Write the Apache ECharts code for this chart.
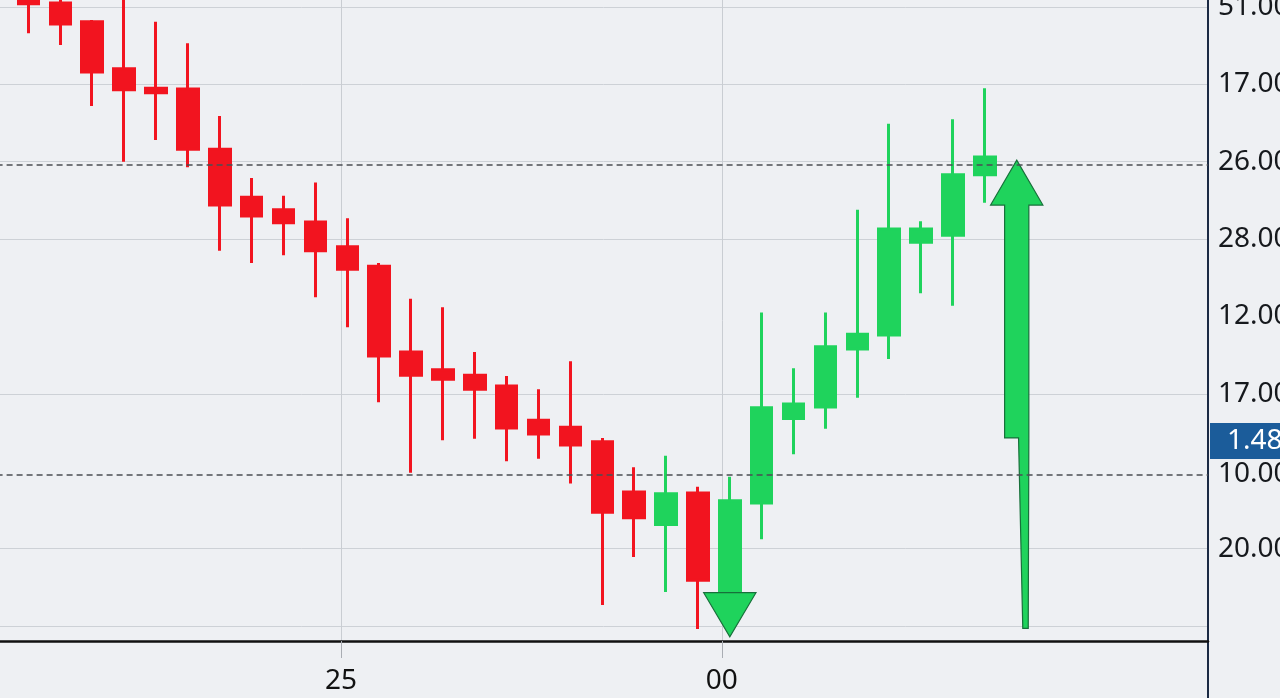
<!DOCTYPE html>
<html>
<head>
<meta charset="utf-8">
<title>Candles</title>
<script src="https://cdn.jsdelivr.net/npm/echarts@6.0.0/dist/echarts.min.js"></script>
<style>
  html, body { margin: 0; padding: 0; background: #eef0f3; }
  #chart { width: 1280px; height: 698px; }
</style>
</head>
<body>
<div id="chart"></div>
<script>
// [open, close, low, high]
const candles = [
  [82.2, 80.4, 76.6, 86.1],
  [80.5, 77.8, 75.1, 81.3],
  [78.1, 71.6, 67.2, 78.3],
  [72.0, 69.3, 60.0, 81.2],
  [69.5, 68.9, 62.8, 78.1],
  [69.4, 61.6, 59.3, 75.3],
  [61.6, 54.4, 48.5, 65.9],
  [55.4, 53.0, 46.9, 57.9],
  [53.8, 52.1, 47.9, 55.6],
  [52.2, 48.5, 42.5, 57.3],
  [49.0, 46.1, 38.6, 52.7],
  [46.5, 34.9, 28.9, 46.9],
  [35.4, 32.4, 19.8, 42.3],
  [33.1, 31.9, 24.0, 41.2],
  [32.4, 30.6, 24.2, 35.4],
  [31.0, 25.6, 21.3, 32.3],
  [26.6, 24.8, 21.6, 30.6],
  [25.7, 23.4, 18.4, 34.2],
  [23.8, 14.7, 2.7, 24.3],
  [17.3, 14.0, 8.9, 20.5],
  [13.1, 17.1, 4.4, 22.0],
  [17.2, 5.9, -0.4, 18.0],
  [4.3, 16.2, 4.3, 19.3],
  [15.9, 28.2, 11.2, 40.5],
  [26.8, 28.7, 22.2, 33.3],
  [28.3, 36.1, 25.5, 40.5],
  [35.8, 37.7, 29.5, 53.8],
  [37.6, 51.3, 34.5, 64.9],
  [49.6, 51.3, 43.0, 52.3],
  [50.5, 58.3, 41.4, 65.5],
  [58.3, 60.6, 54.7, 69.5]
];

// [category, tip, head base, shaft bottom, tail end]
const upArrow = [[32, 60.2, 54.4, 24.3, -0.3]];
// [category, head base, tip]
const downHead = [[23, 4.3, -1.4]];

const leadSlots = 1;
const categoryCount = 39;
const categories = Array.from({ length: categoryCount }, (_, i) => String(i));

const yGridValues = [0, 10, 30, 50, 60, 70, 80];
const yLabelValues = [10, 19.6, 30, 40, 50, 60, 70, 80];
const yLabels = ['20.00', '10.00', '17.00', '12.00', '28.00', '26.00', '17.00', '51.00'];

const xTickValues = [10.8, 22.75];
const xTickLabels = ['25', '00'];

const dashedLevels = [59.6, 19.6];
const priceLevel = 23.9;
const priceTag = '1.48';

const RED = '#f2141f';
const GREEN = '#1fd35c';
const OUTLINE = '#17703a';

function pick(values, labels) {
  return (v) => {
    const i = values.findIndex((t) => Math.abs(t - v) < 1e-6);
    return i < 0 ? '' : labels[i];
  };
}

function candleData() {
  const out = new Array(categoryCount).fill('-');
  candles.forEach((c, i) => { out[i + leadSlots] = c; });
  return out;
}

function renderUpArrow(params, api) {
  const cat = api.value(0);
  const [cx, yTip] = api.coord([cat, api.value(1)]);
  const yBase = api.coord([cat, api.value(2)])[1];
  const yShaft = api.coord([cat, api.value(3)])[1];
  const yTail = api.coord([cat, api.value(4)])[1];
  const step = api.size([1, 0])[0];
  const head = step * 0.82;
  const shaft = step * 0.38;
  return {
    type: 'polygon',
    shape: {
      points: [
        [cx, yTip], [cx + head, yBase], [cx + shaft, yBase], [cx + shaft, yShaft],
        [cx + shaft * 0.95, yTail], [cx + shaft * 0.5, yTail], [cx + shaft * 0.15, yShaft],
        [cx - shaft, yShaft], [cx - shaft, yBase], [cx - head, yBase]
      ]
    },
    style: { fill: GREEN, stroke: OUTLINE, lineWidth: 1.2 }
  };
}

function renderDownHead(params, api) {
  const cat = api.value(0);
  const [cx, yBase] = api.coord([cat, api.value(1)]);
  const yTip = api.coord([cat, api.value(2)])[1];
  const head = api.size([1, 0])[0] * 0.82;
  return {
    type: 'polygon',
    shape: { points: [[cx - head, yBase], [cx + head, yBase], [cx, yTip]] },
    style: { fill: GREEN, stroke: OUTLINE, lineWidth: 1.2 }
  };
}

const dashed = { type: [6, 4], color: '#4b4e53', width: 1.5 };

const option = {
  animation: false,
  backgroundColor: '#eef0f3',
  textStyle: { fontFamily: 'Noto Sans' },
  grid: [
    { left: -3.4, right: 72, top: 0, bottom: 57, outerBoundsMode: 'none', containLabel: false },
    { left: 0, right: 72, top: 0, bottom: 0, outerBoundsMode: 'none', containLabel: false }
  ],
  xAxis: [
    {
      type: 'category', gridIndex: 0, data: categories, boundaryGap: false, position: 'bottom',
      axisLine: { onZero: false, lineStyle: { color: '#111', width: 2.5 } },
      axisTick: { show: false }, axisLabel: { show: false }, splitLine: { show: false }
    },
    {
      type: 'value', gridIndex: 0, min: 0, max: categoryCount - 1, position: 'bottom',
      axisLine: { show: false, onZero: false },
      axisTick: { show: true, length: 17, customValues: xTickValues, lineStyle: { color: '#a9adb3' } },
      axisLabel: {
        customValues: xTickValues, formatter: pick(xTickValues, xTickLabels),
        fontSize: 28, color: '#111', margin: 26
      },
      splitLine: { show: true, lineStyle: { color: '#c9cdd2' } }
    },
    { type: 'value', gridIndex: 1, show: false }
  ],
  yAxis: [
    {
      type: 'value', gridIndex: 0, position: 'right', min: -1.94, max: 80.9,
      axisLine: { show: false, onZero: false },
      axisTick: { show: false, customValues: yGridValues },
      axisLabel: {
        customValues: yLabelValues, formatter: pick(yLabelValues, yLabels),
        fontSize: 28, color: '#16191d', margin: 10
      },
      splitLine: { show: true, lineStyle: { color: '#cdd1d6' } }
    },
    {
      type: 'value', gridIndex: 1, position: 'right',
      axisLine: { show: true, onZero: false, lineStyle: { color: '#1b2a44', width: 2 } },
      axisTick: { show: false }, axisLabel: { show: false }, splitLine: { show: false }
    }
  ],
  series: [
    {
      type: 'candlestick',
      xAxisIndex: 0, yAxisIndex: 0,
      data: candleData(),
      barWidth: 21,
      clip: false,
      itemStyle: { color: GREEN, color0: RED, borderColor: GREEN, borderColor0: RED, borderWidth: 3 },
      markLine: {
        silent: true,
        symbol: ['none', 'none'],
        data: [
          ...dashedLevels.map((v) => ({ yAxis: v, lineStyle: dashed, label: { show: false } })),
          {
            yAxis: priceLevel,
            lineStyle: { color: 'rgba(0,0,0,0)', width: 1 },
            label: {
              show: true, position: 'end', formatter: priceTag, distance: 2, opacity: 1,
              backgroundColor: '#1b5c9a', color: '#fff', fontSize: 28, padding: [4, 40, 4, 17]
            }
          }
        ]
      }
    },
    {
      type: 'custom', xAxisIndex: 0, yAxisIndex: 0, z: 3,
      data: downHead, encode: { x: 0, y: [1, 2] }, renderItem: renderDownHead
    },
    {
      type: 'custom', xAxisIndex: 0, yAxisIndex: 0, z: 3,
      data: upArrow, encode: { x: 0, y: [1, 2, 3, 4] }, renderItem: renderUpArrow
    }
  ]
};

const chart = echarts.init(document.getElementById('chart'));
chart.setOption(option);
</script>
</body>
</html>
